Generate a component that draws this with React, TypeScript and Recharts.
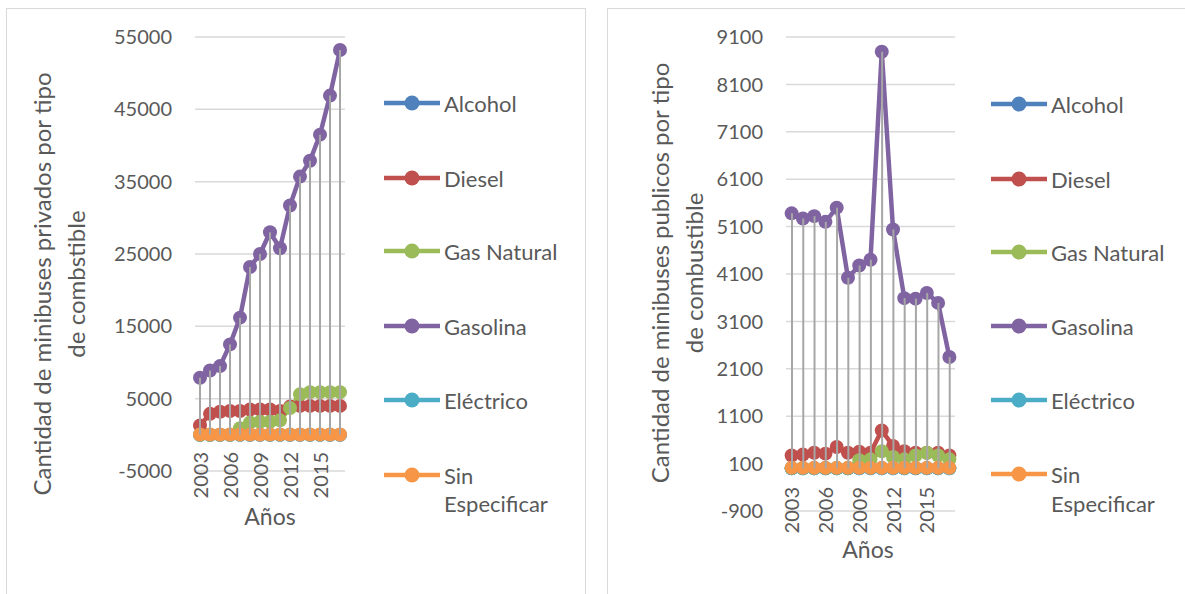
import React from 'react';
import { ComposedChart, Line, Bar, XAxis, YAxis, CartesianGrid, ReferenceLine } from 'recharts';

const FONT = 'Lato, "Noto Sans", sans-serif';
const TXT = '#595959';

const years = ['2003', '2004', '2005', '2006', '2007', '2008', '2009', '2010', '2011', '2012', '2013', '2014', '2015', '2016', '2017'];
const seriesNames = ['Alcohol', 'Diesel', 'Gas Natural', 'Gasolina', 'Eléctrico', 'Sin Especificar'];
const seriesColors = ['#4F81BD', '#C0504D', '#9BBB59', '#8064A2', '#4BACC6', '#F79646'];

// Minibuses privados
const privAlcohol = [0, 0, 0, 0, 0, 0, 0, 0, 0, 0, 0, 0, 0, 0, 0];
const privDiesel = [1300, 2900, 3200, 3300, 3300, 3500, 3500, 3500, 3300, 3900, 4000, 4000, 4000, 4000, 4000];
const privGasNatural = [0, 0, 0, 0, 900, 1700, 1800, 1800, 2000, 3700, 5600, 5900, 5900, 5900, 5900];
const privGasolina = [7900, 8900, 9500, 12500, 16200, 23200, 25000, 28000, 25800, 31700, 35700, 37900, 41500, 46900, 53200];
const privElectrico = [0, 0, 0, 0, 0, 0, 0, 0, 0, 0, 0, 0, 0, 0, 0];
const privSinEsp = [50, 50, 50, 50, 50, 50, 50, 50, 50, 50, 50, 50, 50, 50, 50];
const privTicks = [-5000, 5000, 15000, 25000, 35000, 45000, 55000];

// Minibuses publicos
const pubAlcohol = [0, 0, 0, 0, 0, 0, 0, 0, 0, 0, 0, 0, 0, 0, 0];
const pubDiesel = [270, 290, 330, 310, 450, 330, 350, 330, 800, 470, 360, 330, 330, 330, 270];
const pubGasNatural = [0, 0, 0, 0, 0, 0, 170, 190, 360, 240, 190, 270, 330, 270, 190];
const pubGasolina = [5380, 5270, 5320, 5200, 5500, 4020, 4280, 4400, 8790, 5040, 3590, 3580, 3700, 3490, 2350];
const pubElectrico = [0, 0, 0, 0, 0, 0, 0, 0, 0, 0, 0, 0, 0, 0, 0];
const pubSinEsp = [10, 10, 10, 10, 10, 10, 10, 10, 10, 10, 10, 10, 10, 10, 10];
const pubTicks = [-900, 100, 1100, 2100, 3100, 4100, 5100, 6100, 7100, 8100, 9100];

const keys = ['s0', 's1', 's2', 's3', 's4', 's5'];

function buildRows(series: number[][]) {
  return years.map((y, i) => {
    const row: any = { year: y };
    const vals = series.map((s) => s[i]);
    series.forEach((s, k) => {
      row[keys[k]] = s[i];
    });
    row.hl = [Math.min(...vals), Math.max(...vals)];
    return row;
  });
}

const privRows = buildRows([privAlcohol, privDiesel, privGasNatural, privGasolina, privElectrico, privSinEsp]);
const pubRows = buildRows([pubAlcohol, pubDiesel, pubGasNatural, pubGasolina, pubElectrico, pubSinEsp]);

const XTick = (props: any) => {
  const { x, y, payload, shift } = props;
  return (
    <text
      transform={`translate(${x + 7.5},${y + shift}) rotate(-90)`}
      textAnchor="end"
      fill={TXT}
      fontSize={20}
      fontFamily={FONT}
    >
      {payload.value}
    </text>
  );
};

type PanelProps = {
  rows: any[];
  ticks: number[];
  width: number;
  margin: { top: number; right: number; bottom: number; left: number };
  yWidth: number;
  tickShift: number;
};

function Panel({ rows, ticks, width, margin, yWidth, tickShift }: PanelProps) {
  return (
    <ComposedChart width={width} height={594} data={rows} margin={margin}>
      <CartesianGrid vertical={false} stroke="#d9d9d9" strokeWidth={1.5} />
      <XAxis
        dataKey="year"
        axisLine={false}
        tickLine={false}
        tickSize={0}
        tickMargin={0}
        interval={2}
        height={30}
        tick={<XTick shift={tickShift} />}
      />
      <YAxis
        type="number"
        domain={[ticks[0], ticks[ticks.length - 1]]}
        ticks={ticks}
        interval={0}
        axisLine={false}
        tickLine={false}
        tickSize={0}
        tickMargin={23}
        width={yWidth}
        tick={{ fill: TXT, fontSize: 20, fontFamily: FONT }}
      />
      <ReferenceLine y={0} stroke="#d9d9d9" strokeWidth={1.5} />
      {keys.map((k, i) => (
        <Line
          key={k}
          dataKey={k}
          name={seriesNames[i]}
          type="linear"
          stroke={seriesColors[i]}
          strokeWidth={4.5}
          dot={{ r: 7, fill: seriesColors[i], stroke: seriesColors[i], strokeWidth: 0 }}
          activeDot={false}
          isAnimationActive={false}
        />
      ))}
      <Bar dataKey="hl" fill="#a6a6a6" barSize={2} isAnimationActive={false} zIndex={700} />
    </ComposedChart>
  );
}

function LegendBlock({ x, ys, spec2 }: { x: number; ys: number[]; spec2: number }) {
  return (
    <g>
      {seriesNames.map((n, i) => {
        const y = ys[i];
        const parts = n === 'Sin Especificar' ? ['Sin', 'Especificar'] : [n];
        return (
          <g key={n}>
            <line x1={x} x2={x + 56} y1={y} y2={y} stroke={seriesColors[i]} strokeWidth={4.5} />
            <circle cx={x + 28} cy={y} r={7.5} fill={seriesColors[i]} />
            {parts.map((p, j) => (
              <text
                key={p}
                x={x + 60}
                y={y + j * spec2}
                dominantBaseline="central"
                fill={TXT}
                fontSize={22}
                fontFamily={FONT}
              >
                {p}
              </text>
            ))}
          </g>
        );
      })}
    </g>
  );
}

export default function App() {
  return (
    <div style={{ position: 'absolute', left: 0, top: 0, width: 1185, height: 594, overflow: 'hidden', background: '#fff' }}>
      <div style={{ position: 'absolute', left: 6, top: 8, width: 578, height: 640, border: '1px solid #d9d9d9' }} />
      <div style={{ position: 'absolute', left: 607, top: 8, width: 640, height: 640, border: '1px solid #d9d9d9' }} />
      <div style={{ position: 'absolute', left: 0, top: 0 }}>
        <Panel
          rows={privRows}
          ticks={privTicks}
          width={600}
          margin={{ top: 37, right: 255, bottom: 93, left: 95 }}
          yWidth={100}
          tickShift={-19}
        />
      </div>
      <div style={{ position: 'absolute', left: 600, top: 0 }}>
        <Panel
          rows={pubRows}
          ticks={pubTicks}
          width={585}
          margin={{ top: 37, right: 230, bottom: 53, left: 86 }}
          yWidth={100}
          tickShift={-24}
        />
      </div>
      <svg width={1185} height={594} style={{ position: 'absolute', left: 0, top: 0, pointerEvents: 'none' }}>
        <g fontFamily={FONT} fill={TXT} fontSize={24}>
          <text transform="translate(41,284) rotate(-90)" textAnchor="middle" dominantBaseline="central">
            Cantidad de minibuses privados por tipo
          </text>
          <text transform="translate(75,284) rotate(-90)" textAnchor="middle" dominantBaseline="central">
            de combstible
          </text>
          <text x={270} y={516} textAnchor="middle" dominantBaseline="central" fontSize={23}>
            Años
          </text>
          <text transform="translate(659,273) rotate(-90)" textAnchor="middle" dominantBaseline="central">
            Cantidad de minibuses publicos por tipo
          </text>
          <text transform="translate(693,273) rotate(-90)" textAnchor="middle" dominantBaseline="central">
            de combustible
          </text>
          <text x={868} y={549} textAnchor="middle" dominantBaseline="central" fontSize={23}>
            Años
          </text>
        </g>
        <LegendBlock x={384} ys={[103, 178, 251, 326, 400, 475]} spec2={28} />
        <LegendBlock x={991} ys={[104, 179, 252, 326, 400, 474]} spec2={29} />
      </svg>
    </div>
  );
}
